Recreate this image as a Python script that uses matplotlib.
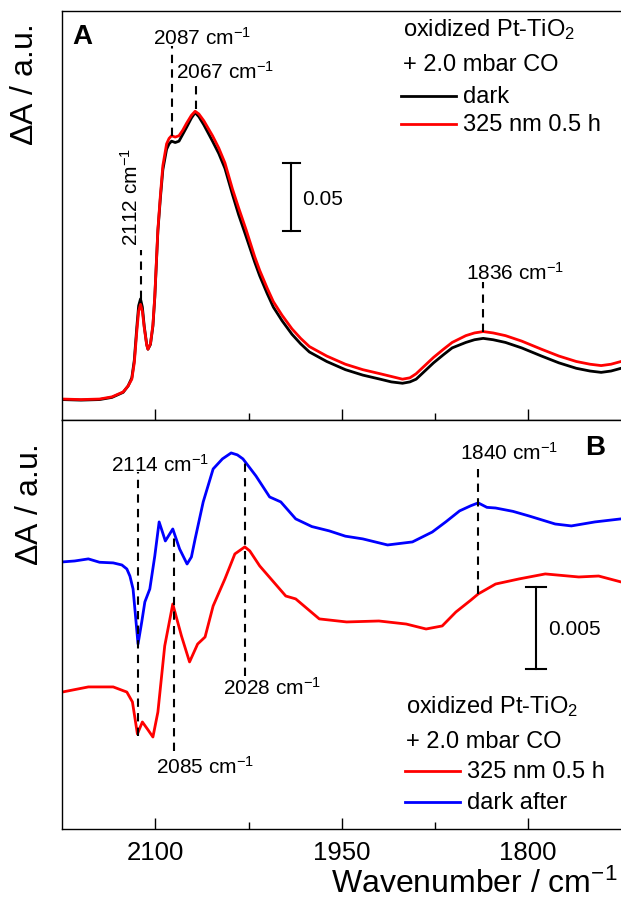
import numpy as np
import matplotlib
matplotlib.use('Agg')
from matplotlib import pyplot as plt

plt.rcParams['font.family'] = ['Liberation Sans', 'DejaVu Sans']
plt.rcParams['mathtext.fontset'] = 'custom'
plt.rcParams['mathtext.rm'] = 'Liberation Sans'
plt.rcParams['mathtext.it'] = 'Liberation Sans:italic'
plt.rcParams['mathtext.bf'] = 'Liberation Sans:bold'

# panel A: absorbance spectra
wn_a = [2175, 2160, 2145, 2135, 2126, 2122, 2119, 2117, 2115, 2113.5, 2112, 2110.5,
        2109, 2107, 2106, 2104, 2102, 2100.5, 2098, 2096, 2094, 2091, 2089, 2087,
        2084, 2081, 2078, 2075, 2071, 2068, 2065, 2061, 2054, 2049, 2044, 2038,
        2033, 2027, 2020, 2016, 2010, 2005, 1998, 1990, 1983, 1976, 1962, 1947,
        1933, 1919, 1910, 1901, 1895, 1890, 1883, 1876, 1868, 1861, 1850, 1843,
        1836, 1828, 1818, 1805, 1789, 1775, 1761, 1750, 1741, 1733, 1725]
dark_a = [0.0150, 0.0146, 0.0150, 0.0166, 0.0203, 0.0250, 0.0310, 0.0440, 0.0680,
          0.0840, 0.0890, 0.0830, 0.0690, 0.0555, 0.0520, 0.0555, 0.0690, 0.0900,
          0.1390, 0.1630, 0.1840, 0.1990, 0.2030, 0.2050, 0.2040, 0.2050, 0.2100,
          0.2150, 0.2220, 0.2260, 0.2230, 0.2170, 0.2050, 0.1960, 0.1850, 0.1660,
          0.1510, 0.1350, 0.1160, 0.1060, 0.0930, 0.0830, 0.0730, 0.0630, 0.0560,
          0.0500, 0.0430, 0.0370, 0.0330, 0.0300, 0.0280, 0.0270, 0.0280, 0.0300,
          0.0360, 0.0420, 0.0480, 0.0530, 0.0570, 0.0590, 0.0600, 0.0590, 0.0570,
          0.0530, 0.0470, 0.0420, 0.0380, 0.0360, 0.0350, 0.0360, 0.0380]
uv_a = [0.0154, 0.0150, 0.0154, 0.0170, 0.0206, 0.0250, 0.0300, 0.0420, 0.0650,
        0.0800, 0.0850, 0.0800, 0.0680, 0.0550, 0.0520, 0.0560, 0.0700, 0.0910,
        0.1400, 0.1650, 0.1870, 0.2030, 0.2070, 0.2090, 0.2080, 0.2090, 0.2130,
        0.2180, 0.2240, 0.2270, 0.2250, 0.2200, 0.2090, 0.2000, 0.1890, 0.1700,
        0.1560, 0.1400, 0.1200, 0.1100, 0.0970, 0.0870, 0.0770, 0.0670, 0.0600,
        0.0540, 0.0470, 0.0410, 0.0370, 0.0340, 0.0320, 0.0300, 0.0310, 0.0340,
        0.0400, 0.0460, 0.0520, 0.0570, 0.0620, 0.0640, 0.0650, 0.0640, 0.0620,
        0.0580, 0.0520, 0.0470, 0.0430, 0.0410, 0.0400, 0.0410, 0.0430]

# panel B: difference spectra
wn_b_blue = [2175, 2165, 2154, 2145, 2134, 2127, 2123, 2120.5, 2118, 2116, 2114,
             2111, 2108.5, 2104.5, 2100.5, 2097, 2094.5, 2092, 2086, 2080.5, 2074.5,
             2071, 2068, 2061.5, 2053.5, 2046, 2039, 2034, 2029.5, 2019, 2008, 1999,
             1987, 1974, 1960, 1947, 1933, 1913, 1893, 1877, 1866, 1855, 1846, 1840,
             1833, 1826, 1812, 1799, 1778, 1765, 1746, 1725]
dark_after_b = [0.01669, 0.01675, 0.01688, 0.01667, 0.01663, 0.01650, 0.01625, 0.01580,
                0.01500, 0.01330, 0.01156, 0.01294, 0.01419, 0.01500, 0.01706, 0.01919,
                0.01860, 0.01800, 0.01875, 0.01750, 0.01656, 0.01700, 0.01813, 0.02044,
                0.02250, 0.02313, 0.02350, 0.02338, 0.02313, 0.02206, 0.02075, 0.02044,
                0.01938, 0.01890, 0.01863, 0.01830, 0.01813, 0.01775, 0.01794, 0.01856,
                0.01920, 0.01988, 0.02020, 0.02038, 0.02010, 0.02006, 0.01985, 0.01956,
                0.01906, 0.01894, 0.01919, 0.01938]
wn_b_red = [2175, 2154, 2145, 2134, 2123, 2118.5, 2114.5, 2110.5, 2106, 2102, 2098,
            2092.5, 2086, 2079, 2072.5, 2066, 2060, 2053.5, 2044, 2036, 2028, 2024,
            2016, 2005.5, 1995, 1987, 1968, 1946, 1920, 1898, 1882, 1869, 1858, 1846,
            1840, 1826, 1807, 1786, 1759, 1743, 1725]
uv_b = [0.00856, 0.00888, 0.00888, 0.00888, 0.00856, 0.00794, 0.00594, 0.00669,
        0.00620, 0.00575, 0.00731, 0.01144, 0.01406, 0.01206, 0.01044, 0.01156,
        0.01200, 0.01394, 0.01563, 0.01719, 0.01763, 0.01738, 0.01644, 0.01550,
        0.01456, 0.01438, 0.01313, 0.01294, 0.01300, 0.01281, 0.01250, 0.01269,
        0.01356, 0.01430, 0.01469, 0.01531, 0.01563, 0.01594, 0.01575, 0.01581,
        0.01544]

# marked bands: (wavenumber, line bottom, line top)
bands_a = [(2112, 0.0890, 0.1250), (2087, 0.209, 0.275), (2067, 0.229, 0.249),
           (1836, 0.0650, 0.1015)]
bands_b = [(2114, 0.00581, 0.02231), (2085, 0.00488, 0.01831), (2028, 0.00956, 0.02313),
           (1840, 0.01469, 0.02250)]

RED = '#ff0000'
BLUE = '#0000ff'
lw = 2.0
cm = r' cm$^{-1}$'

fig = plt.figure(figsize=(6.21, 9.03), dpi=100)
axA = fig.add_axes([0.1003, 0.5338, 0.8997, 0.4529])
axB = fig.add_axes([0.1003, 0.0808, 0.8997, 0.4530])

for ax in (axA, axB):
    ax.set_xlim(2175, 1725)
    ax.set_xticks([2100, 1950, 1800])
    ax.set_xticks([2025, 1875], minor=True)
    ax.tick_params(axis='x', which='both', direction='in', top=False, labelsize=18.5, pad=8, width=1)
    ax.tick_params(axis='x', which='major', length=8)
    ax.tick_params(axis='x', which='minor', length=5)
    ax.set_yticks([])
    ax.spines['right'].set_visible(False)
    for s in ('left', 'top', 'bottom'):
        ax.spines[s].set_linewidth(1.0)
axA.tick_params(axis='x', labelbottom=False)

# --- panel A
axA.set_ylim(0, 0.3007)
axA.plot(wn_a, dark_a, color='black', lw=lw)
axA.plot(wn_a, uv_a, color=RED, lw=lw)
for w, y0, y1 in bands_a:
    axA.plot([w, w], [y0, y1], color='black', lw=1.5, dashes=(4, 3))
axA.text(2120, 0.129, '2112' + cm, rotation=90, ha='center', va='bottom', fontsize=15)
axA.text(2062.7, 0.282, '2087' + cm, ha='center', va='center', fontsize=15)
axA.text(2043.5, 0.2566, '2067' + cm, ha='center', va='center', fontsize=15)
axA.text(1810, 0.1088, '1836' + cm, ha='center', va='center', fontsize=15)

# scale bar
axA.plot([1990.5, 1990.5], [0.139, 0.189], color='black', lw=1.5)
axA.plot([1997.5, 1983.5], [0.139, 0.139], color='black', lw=1.5)
axA.plot([1997.5, 1983.5], [0.189, 0.189], color='black', lw=1.5)
axA.text(1981.5, 0.1625, '0.05', ha='left', va='center', fontsize=15)

axA.text(0.0175, 0.939, 'A', transform=axA.transAxes, fontsize=20, fontweight='bold',
         ha='left', va='center')
axA.text(0.610, 0.956, r'oxidized Pt-TiO$_2$', transform=axA.transAxes, fontsize=17, va='center')
axA.text(0.610, 0.870, '+ 2.0 mbar CO', transform=axA.transAxes, fontsize=17, va='center')
axA.plot([0.606, 0.705], [0.792, 0.792], transform=axA.transAxes, color='black', lw=lw)
axA.text(0.718, 0.792, 'dark', transform=axA.transAxes, fontsize=17, va='center')
axA.plot([0.606, 0.705], [0.724, 0.724], transform=axA.transAxes, color=RED, lw=lw)
axA.text(0.718, 0.724, '325 nm 0.5 h', transform=axA.transAxes, fontsize=17, va='center')

# --- panel B
axB.set_ylim(0, 0.02556)
axB.plot(wn_b_blue, dark_after_b, color=BLUE, lw=lw)
axB.plot(wn_b_red, uv_b, color=RED, lw=lw)
for w, y0, y1 in bands_b:
    axB.plot([w, w], [y0, y1], color='black', lw=1.5, dashes=(4, 3))
axB.text(2096.5, 0.02281, '2114' + cm, ha='center', va='center', fontsize=15)
axB.text(2060, 0.00394, '2085' + cm, ha='center', va='center', fontsize=15)
axB.text(2005.7, 0.00888, '2028' + cm, ha='center', va='center', fontsize=15)
axB.text(1815, 0.02356, '1840' + cm, ha='center', va='center', fontsize=15)

axB.plot([1793.6, 1793.6], [0.0100, 0.01513], color='black', lw=1.5)
axB.plot([1801.6, 1785.6], [0.0100, 0.0100], color='black', lw=1.5)
axB.plot([1801.6, 1785.6], [0.01513, 0.01513], color='black', lw=1.5)
axB.text(1784, 0.0125, '0.005', ha='left', va='center', fontsize=15)

axB.text(0.953, 0.934, 'B', transform=axB.transAxes, fontsize=20, fontweight='bold',
         ha='center', va='center')
axB.text(0.615, 0.301, r'oxidized Pt-TiO$_2$', transform=axB.transAxes, fontsize=17, va='center')
axB.text(0.615, 0.215, '+ 2.0 mbar CO', transform=axB.transAxes, fontsize=17, va='center')
axB.plot([0.613, 0.712], [0.142, 0.142], transform=axB.transAxes, color=RED, lw=lw)
axB.text(0.724, 0.142, '325 nm 0.5 h', transform=axB.transAxes, fontsize=17, va='center')
axB.plot([0.613, 0.712], [0.066, 0.066], transform=axB.transAxes, color=BLUE, lw=lw)
axB.text(0.724, 0.066, 'dark after', transform=axB.transAxes, fontsize=17, va='center')

# axis labels
fig.text(25 / 621, 1 - 85 / 903, r'$\Delta$A / a.u.', rotation=90, ha='center', va='center', fontsize=23)
fig.text(30 / 621, 1 - 505 / 903, r'$\Delta$A / a.u.', rotation=90, ha='center', va='center', fontsize=23)
fig.text(474 / 621, 3 / 903, 'Wavenumber' + ' / cm$^{-1}$', ha='center', va='bottom', fontsize=23)

fig.savefig('out.png', dpi=100)
